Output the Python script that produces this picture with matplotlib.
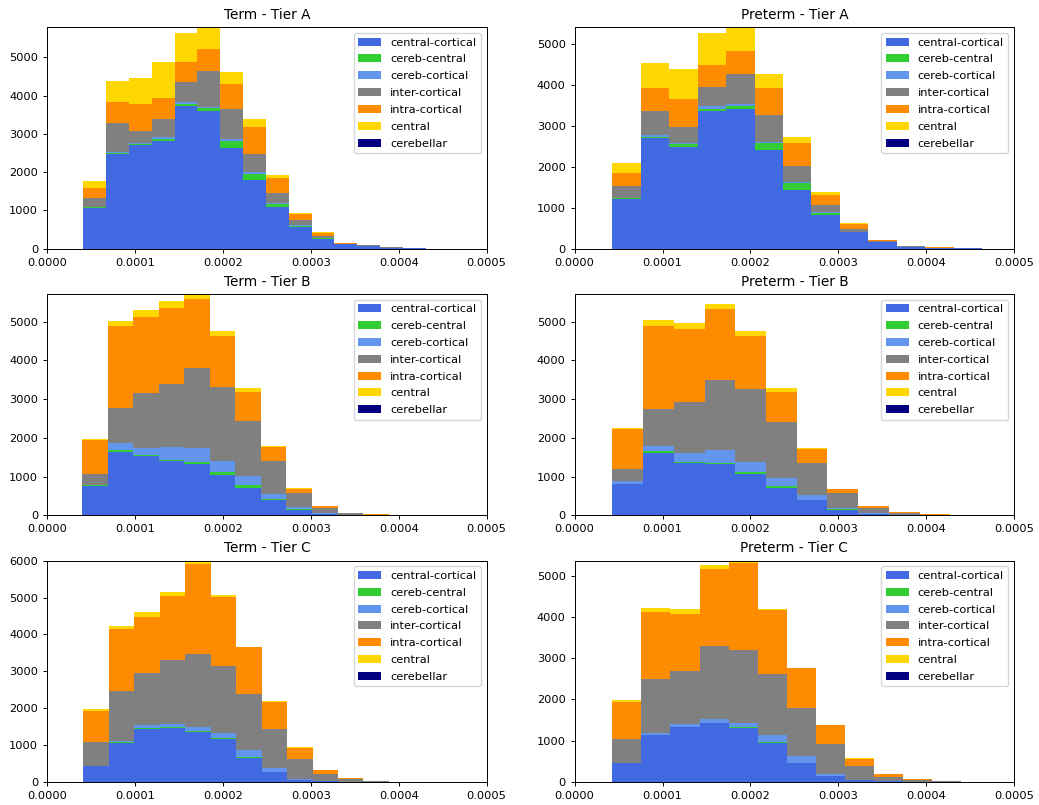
import numpy as np
import matplotlib
matplotlib.use("Agg")
from matplotlib import pyplot as plt

plt.rcParams['font.size'] = 8.2
plt.rcParams['axes.linewidth'] = 0.7
plt.rcParams['xtick.major.width'] = 0.7
plt.rcParams['ytick.major.width'] = 0.7
plt.rcParams['xtick.major.size'] = 3
plt.rcParams['ytick.major.size'] = 3

labels = ['central-cortical', 'cereb-central', 'cereb-cortical', 'inter-cortical',
          'intra-cortical', 'central', 'cerebellar']
colors = ['royalblue', 'limegreen', 'cornflowerblue', 'gray', 'darkorange', 'gold', 'navy']

titles = ['Term - Tier A', 'Preterm - Tier A', 'Term - Tier B',
          'Preterm - Tier B', 'Term - Tier C', 'Preterm - Tier C']

# bin start / bin width for each panel
bin_start = [4.10e-5, 4.29e-5, 3.98e-5, 4.29e-5, 4.10e-5, 4.29e-5]
bin_width = [2.597e-5, 3.236e-5, 2.905e-5, 3.497e-5, 2.898e-5, 3.306e-5]
y_top = [5790, 5396, 5716, 5716, 6000, 5364]

# counts per bin, one list per category (order of `labels`)
term_a = [
    [1075, 2478, 2712, 2825, 3743, 3613, 2626, 1785, 1092, 572, 260, 113, 78, 26, 8],
    [5, 30, 20, 35, 52, 61, 199, 173, 69, 26, 8, 3, 2, 1, 0],
    [5, 31, 32, 52, 52, 43, 35, 35, 44, 10, 5, 2, 1, 1, 0],
    [242, 737, 304, 485, 503, 919, 797, 477, 259, 129, 65, 10, 8, 5, 3],
    [251, 554, 727, 554, 537, 598, 641, 702, 373, 156, 69, 11, 12, 8, 4],
    [200, 563, 676, 936, 746, 600, 321, 208, 95, 34, 18, 5, 3, 2, 1],
    [0, 0, 0, 0, 0, 0, 0, 0, 0, 0, 0, 0, 0, 0, 0],
]
preterm_a = [
    [1220, 2706, 2480, 3352, 3409, 2407, 1438, 808, 396, 162, 48, 22, 6],
    [5, 20, 64, 41, 64, 162, 161, 64, 16, 3, 1, 0, 0],
    [5, 37, 25, 72, 41, 40, 25, 17, 5, 2, 1, 0, 0],
    [305, 589, 395, 469, 735, 654, 387, 177, 68, 20, 6, 4, 2],
    [307, 566, 695, 549, 557, 655, 558, 251, 113, 30, 8, 5, 2],
    [242, 614, 727, 775, 600, 347, 161, 72, 16, 3, 1, 1, 0],
    [0, 0, 0, 0, 0, 0, 0, 0, 0, 0, 0, 0, 0],
]
term_b = [
    [767, 1647, 1534, 1405, 1328, 1034, 716, 397, 147, 43, 17, 5],
    [17, 51, 35, 35, 51, 78, 60, 25, 10, 2, 0, 0],
    [5, 164, 181, 319, 362, 293, 233, 138, 50, 8, 2, 1],
    [280, 905, 1405, 1638, 2069, 1905, 1431, 854, 362, 145, 33, 12],
    [879, 2121, 1974, 1956, 1785, 1328, 732, 362, 121, 35, 17, 8],
    [18, 138, 181, 173, 200, 121, 104, 8, 8, 0, 0, 0],
    [0, 0, 0, 0, 0, 0, 0, 0, 0, 0, 0, 0],
]
preterm_b = [
    [810, 1612, 1353, 1328, 1069, 716, 388, 147, 43, 15, 6, 1],
    [10, 43, 26, 25, 43, 51, 17, 5, 2, 0, 0, 0],
    [59, 129, 224, 337, 267, 207, 121, 38, 5, 2, 0, 0],
    [311, 966, 1328, 1801, 1880, 1440, 819, 379, 148, 43, 12, 2],
    [1034, 2138, 1879, 1837, 1379, 767, 379, 121, 35, 18, 8, 2],
    [26, 155, 156, 129, 121, 95, 9, 0, 0, 0, 0, 0],
    [0, 0, 0, 0, 0, 0, 0, 0, 0, 0, 0, 0],
]
term_c = [
    [443, 1068, 1439, 1475, 1357, 1158, 661, 262, 63, 18, 5, 2, 1],
    [0, 18, 18, 18, 28, 28, 9, 0, 0, 0, 0, 0, 0],
    [0, 27, 81, 82, 108, 153, 208, 118, 18, 3, 1, 0, 0],
    [634, 1358, 1412, 1728, 1982, 1810, 1511, 1050, 543, 196, 66, 13, 4],
    [860, 1665, 1530, 1747, 2444, 1874, 1267, 751, 308, 118, 28, 12, 4],
    [45, 99, 117, 108, 90, 54, 10, 5, 3, 0, 0, 0, 0],
    [0, 0, 0, 0, 0, 0, 0, 0, 0, 0, 0, 0, 0],
]
preterm_c = [
    [469, 1133, 1327, 1424, 1319, 947, 461, 146, 40, 16, 6, 2, 1],
    [0, 10, 10, 8, 24, 10, 5, 2, 0, 0, 0, 0, 0],
    [0, 46, 79, 89, 97, 192, 157, 38, 5, 2, 1, 0, 0],
    [583, 1311, 1278, 1764, 1756, 1472, 1165, 728, 335, 111, 42, 10, 3],
    [890, 1610, 1376, 1885, 2111, 1546, 963, 469, 186, 73, 24, 12, 4],
    [40, 105, 113, 89, 80, 24, 5, 3, 4, 0, 0, 0, 0],
    [0, 0, 0, 0, 0, 0, 0, 0, 0, 0, 0, 0, 0],
]

panels = [term_a, preterm_a, term_b, preterm_b, term_c, preterm_c]

fig, axes = plt.subplots(3, 2, figsize=(10.39, 8.05), dpi=100)
fig.subplots_adjust(left=0.0455, right=0.976, top=0.9661, bottom=0.0286,
                    wspace=0.2003, hspace=0.205)

for ax, title, counts, start, width, top in zip(axes.flat, titles, panels,
                                                 bin_start, bin_width, y_top):
    n = len(counts[0])
    edges = start + width * np.arange(n + 1)
    centers = (edges[:-1] + edges[1:]) / 2
    ax.hist([centers] * len(labels), bins=edges, weights=counts, stacked=True,
            histtype='stepfilled', color=colors, label=labels)
    ax.set_xlim(0, 0.0005)
    ax.set_ylim(0, top)
    ax.set_xticks([0, 0.0001, 0.0002, 0.0003, 0.0004, 0.0005])
    ax.set_xticklabels(['0.0000', '0.0001', '0.0002', '0.0003', '0.0004', '0.0005'])
    ax.set_title(title, fontsize=9.8)
    handles, lbls = ax.get_legend_handles_labels()
    ax.legend(handles[::-1], lbls[::-1], loc='upper right', labelspacing=0.6)

plt.savefig('out.png', dpi=100)
